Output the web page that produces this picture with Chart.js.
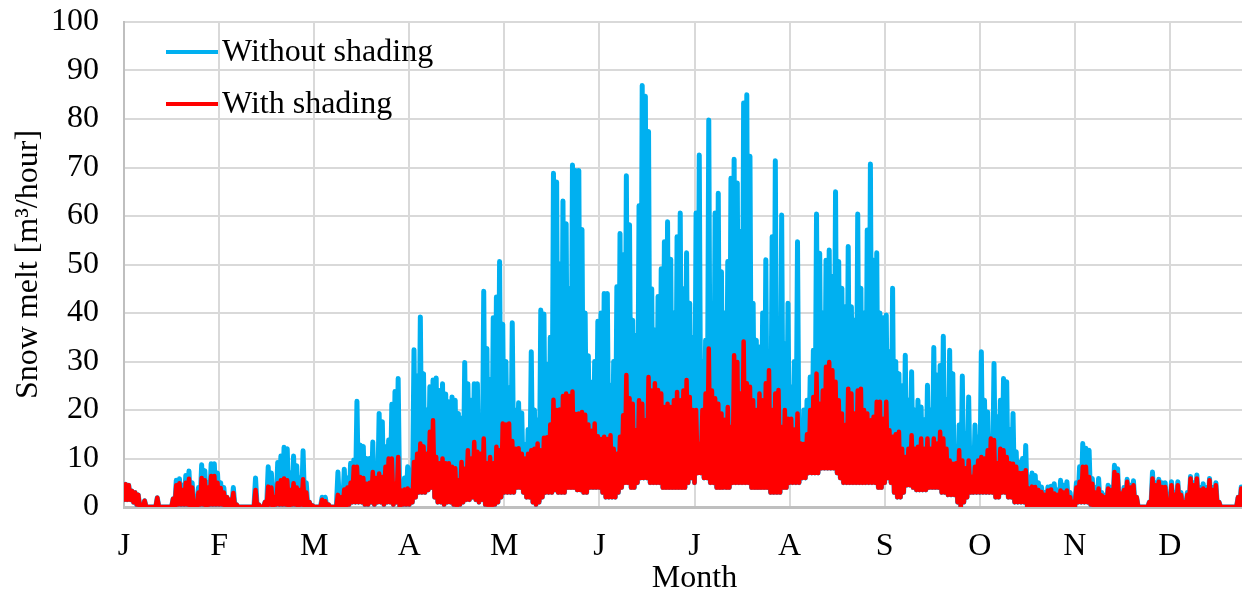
<!DOCTYPE html>
<html>
<head>
<meta charset="utf-8">
<title>Snow melt</title>
<script src="https://cdn.jsdelivr.net/npm/chart.js@4.4.0/dist/chart.umd.min.js"></script>
<style>
  html, body { margin: 0; padding: 0; background: #fff; overflow: hidden; }
  #wrap { width: 1265px; height: 592px; }
</style>
</head>
<body>
<div id="wrap"><canvas id="meltChart" width="1265" height="592"></canvas></div>
<script>
// month initials along the x axis (one tick per month)
const monthLabels = ["J", "F", "M", "A", "M", "J", "J", "A", "S", "O", "N", "D"];

// daily peak melt without shading [m3/hour], one row per month
const withoutShadingPeaks = [
  [4.7,4.5,3.3,3.0,2.5,0.5,1.3,0,0,0,1.9,0,0,0,0,1.7,5.5,5.8,4.5,6.5,7.4,5.0,1.0,4.0,8.7,7.5,5.0,8.9,8.9,7.0],
  [5.0,4.0,2.0,1.5,4.0,0.5,0,0,0,0,0,6.0,0.5,0,1.0,8.3,7.0,3.0,9.2,10.5,12.3,12.0,7.0,10.5,8.5,6.0,11.6,5.0,1.0,0.3],
  [0,0,2.0,2.0,0.5,0,0,7.2,3.0,7.8,6.0,9.0,9.7,21.8,12.8,12.5,10.0,10.0,13.4,9.0,19.3,17.6,12.4,13.8,21.2,23.8,26.5,4.8,6.0,8.3],
  [7.6,32.4,27.0,39.2,27.5,20.0,24.8,26.2,26.6,24.0,25.4,23.3,21.7,22.7,22.0,19.3,18.3,29.8,25.4,22.0,25.4,25.4,13.4,44.5,32.7,26.3,39.0,43.3,50.6,37.7],
  [30.0,24.6,38.0,20.0,21.5,19.4,12.9,16.0,32.0,20.0,18.0,40.6,39.8,29.4,35.0,68.8,67.0,50.1,63.1,58.4,45.0,70.5,69.4,69.4,57.2,40.0,31.2,25.7,30.0,38.3],
  [40.0,44.0,44.0,25.1,30.0,45.4,56.4,52.0,68.3,58.2,38.5,35.4,62.1,86.9,84.7,77.4,45.0,36.5,43.4,49.1,54.7,58.8,51.1,40.0,55.7,60.6,45.0,52.4,42.0,35.0],
  [60.6,72.6,30.0,34.4,79.8,29.9,60.6,64.7,48.5,40.0,50.6,67.8,71.7,66.8,56.8,83.3,85.0,72.3,42.0,34.4,33.0,40.0,51.0,28.2,55.7,71.4,33.7,60.2,33.7,42.0],
  [24.8,30.0,54.7,16.5,20.0,22.0,26.8,32.3,60.4,52.3,40.0,50.9,53.0,47.5,65.0,50.6,45.1,41.3,53.7,41.3,38.5,60.4,45.1,40.0,57.1,70.7,50.9,52.4,40.0,39.0],
  [39.6,32.0,45.1,30.0,27.5,25.0,31.3,22.0,27.9,20.0,22.0,20.6,18.0,25.1,20.0,32.9,27.2,29.2,35.2,22.0,32.3,27.5,12.0,16.9,27.0,15.0,22.7,6.9,16.9,14.5],
  [32.0,22.0,19.6,14.5,29.6,18.6,22.0,26.5,25.8,16.0,19.3,11.4,9.3,10.0,12.7,6.2,7.0,6.5,5.0,4.1,3.0,4.1,4.3,4.8,3.5,5.5,4.5,5.2,3.0,1.0],
  [5.0,8.3,13.1,12.1,11.7,5.9,4.0,5.9,3.0,2.4,4.5,4.0,8.6,7.9,3.0,4.0,5.7,4.5,5.4,2.0,0,0,0,1.0,7.2,5.0,5.7,5.0,5.0,1.4],
  [5.2,3.0,5.2,3.0,1.0,3.0,6.3,5.0,6.6,4.0,4.8,4.0,5.9,4.0,5.0,1.0,0,0,0,0,0,2.0,4.1]
];

// daily peak melt with shading [m3/hour]
const withShadingPeaks = [
  [4.7,4.5,3.3,3.0,2.5,0.5,1.3,0,0,0,1.9,0,0,0,0,1.7,4.5,4.9,3.5,5.0,5.8,4.0,0.8,3.0,6.0,5.5,4.0,6.4,6.4,5.0],
  [3.9,3.0,2.0,1.5,2.9,0.5,0,0,0,0,0,3.5,0.5,0,1.0,4.2,4.0,2.0,4.9,5.5,5.9,5.5,3.5,4.9,4.0,3.5,5.7,3.0,1.0,0.3],
  [0,0,1.5,1.2,0.5,0,0,2.5,2.0,3.6,4.0,5.0,8.3,8.3,6.2,6.0,4.8,5.0,7.2,6.0,6.9,6.2,8.3,10.0,10.0,4.8,10.3,3.4,3.6,3.8],
  [3.4,9.3,11.0,13.1,12.5,11.0,15.5,17.9,10.3,9.0,10.0,9.0,9.0,8.3,8.0,5.5,9.3,7.9,11.7,10.0,13.4,11.4,11.0,14.1,9.0,10.3,9.0,12.4,11.7,17.2],
  [17.0,17.2,13.6,12.0,12.1,11.0,10.0,11.0,11.7,12.0,13.1,11.7,14.3,14.4,17.0,22.1,20.0,20.1,22.9,23.4,22.9,23.8,19.2,19.3,19.6,19.0,17.0,15.7,17.2,14.6],
  [14.0,14.5,14.0,14.8,12.0,11.0,14.5,18.9,27.2,22.4,21.3,15.8,22.0,21.3,17.9,26.8,24.0,25.5,24.1,23.4,20.6,21.3,20.6,22.0,23.7,22.0,24.0,26.2,22.7,20.0],
  [20.0,13.0,20.0,23.4,32.7,24.0,22.4,21.3,19.3,18.0,20.6,16.5,31.3,29.9,23.4,34.1,25.5,24.8,22.0,20.0,23.4,22.0,25.5,28.2,20.0,23.4,24.1,16.5,20.0,18.2],
  [18.2,16.0,19.3,13.1,13.0,15.0,20.0,22.7,27.5,21.3,24.0,28.9,29.9,28.2,25.8,22.0,19.3,16.9,24.4,23.4,19.3,24.0,24.4,20.0,19.3,17.9,18.6,21.7,21.7,18.2],
  [21.7,15.8,14.5,15.0,15.5,12.0,10.3,12.0,14.8,12.0,12.4,14.1,12.0,14.1,12.0,14.1,13.1,15.5,14.1,12.0,9.6,8.9,9.0,11.7,9.6,8.0,9.6,6.2,8.3,9.6],
  [10.3,10.0,11.7,14.1,13.8,9.0,12.0,11.7,10.3,9.0,8.9,8.3,7.0,7.0,7.6,3.8,4.2,4.1,3.5,3.1,2.5,3.4,3.6,2.8,2.5,3.4,3.0,3.4,2.0,1.0],
  [4.0,5.2,8.3,8.3,6.2,4.8,3.0,3.8,2.4,2.0,3.8,3.5,7.2,6.6,2.8,3.5,5.2,4.0,4.5,2.0,0,0,0,1.0,5.9,4.5,5.2,4.1,4.1,1.4],
  [4.5,2.5,4.5,2.5,1.0,2.5,5.9,4.5,5.9,3.5,3.8,3.5,5.5,3.5,4.5,1.0,0,0,0,0,0,2.0,3.8]
];

// night-time minimum melt for each day (same for both cases)
const nightBase = [
  [1.5,1.5,1.5,1,0.5,0,0,0,0,0,0,0,0,0,0,0,0,0.5,0.5,0.5,0.5,0,0,0,0.5,0.5,0,0.5,0.5,0.5],
  [0.5,0.5,0,0,0,0,0,0,0,0,0,0,0,0,0,0,0.5,0,0.5,0.5,0.5,0.5,0,0.5,0.5,0,0.5,0,0,0],
  [0,0,0,0,0,0,0,0,0,0,0,0.5,1,1,1,1,0.5,0.5,1,0.5,1,1,0.5,1,1,0.5,1,0,0.5,0.5],
  [0.5,1,2,3,3,3,3.5,4,2,1,1,0.5,1,1,0.5,0,0.5,1,1.5,1.5,2,1.5,1,1.5,0.5,0,0,0.5,1,2],
  [3,3,3,3,4,4,3,2,2,1,0.5,1,2,3,3,3,3.5,3,3,3,4,4,4,3.5,3.5,3,3,4,4,4],
  [4,3,2,2,2,2,3,4,5,5,4,4,5,6,6,6,5,5,5,5,4,4,4,4,4,4,4,4,5,6],
  [5,7,7,6,6,5,5,4,4,4,4,4,5,5,5,5,5,5,4,4,4,4,4,4,3,3,3,3,4,4],
  [5,5,5,5,6,6,7,7,7,7,8,8,8,8,8,7,6,5,5,5,5,5,5,5,5,5,5,5,4,4],
  [5,6,5,3,2,2,3,4.5,4.5,4,3.5,3.5,3.5,3.5,4,4,4,4,3,3,2.5,2.5,2.5,1,0,1,2,3,3,3],
  [3,3,3,3,3,2,2,3,3,2,2,1,1,1,1,0,0,0,0,0,0,0,0,0,0,0,0,0,0,0],
  [0,1,1,1,1,0.5,0,0,0,0,0,0,0,0,0,0,0,0,0,0,0,0,0,0,0,0,0,0,0,0],
  [0,0,0,0,0,0,0,0,0,0,0,0,0,0,0,0,0,0,0,0,0,0,0]
];

const DAYS_PER_MONTH = 30;
const FONT_FAMILY = "'Times New Roman', 'Liberation Serif', serif";
const FONT_SIZE = 32;

// each day becomes a night low followed by the midday peak
function dailyPoints(peaks) {
  const pts = [];
  peaks.forEach((month, m) => {
    month.forEach((peak, d) => {
      pts.push({ x: m + d / DAYS_PER_MONTH, y: nightBase[m][d] });
      pts.push({ x: m + (d + 0.5) / DAYS_PER_MONTH, y: peak });
    });
  });
  return pts;
}

// legend drawn inside the plot, top left
const insideLegend = {
  id: "insideLegend",
  afterDatasetsDraw(chart) {
    const { ctx, chartArea } = chart;
    const entries = [chart.data.datasets[1], chart.data.datasets[0]];
    ctx.save();
    ctx.font = FONT_SIZE + "px " + FONT_FAMILY;
    ctx.textBaseline = "middle";
    ctx.fillStyle = "#000";
    entries.forEach((ds, i) => {
      const y = chartArea.top + 30 + i * 52;
      ctx.strokeStyle = ds.borderColor;
      ctx.lineWidth = 4;
      ctx.beginPath();
      ctx.moveTo(chartArea.left + 42, y);
      ctx.lineTo(chartArea.left + 94, y);
      ctx.stroke();
      ctx.fillText(ds.label, chartArea.left + 98, y + 1);
    });
    ctx.restore();
  }
};

const axisFont = { family: FONT_FAMILY, size: FONT_SIZE, lineHeight: 1 };

new Chart(document.getElementById("meltChart"), {
  type: "line",
  data: {
    datasets: [
      { label: "With shading", data: dailyPoints(withShadingPeaks),
        borderColor: "#FF0000", borderWidth: 4.5 },
      { label: "Without shading", data: dailyPoints(withoutShadingPeaks),
        borderColor: "#00B0F0", borderWidth: 5 }
    ]
  },
  options: {
    responsive: false,
    animation: false,
    devicePixelRatio: 1,
    layout: { padding: { left: 13, top: 0, right: 0, bottom: 0 } },
    elements: {
      point: { radius: 0 },
      line: { tension: 0, borderJoinStyle: "round", borderCapStyle: "round" }
    },
    plugins: { legend: { display: false }, tooltip: { enabled: false } },
    scales: {
      x: {
        type: "linear", min: 0, max: 12,
        ticks: {
          stepSize: 1, autoSkip: false, maxRotation: 0, padding: 24,
          color: "#000", font: axisFont,
          callback: (v) => monthLabels[Math.round(v)] || ""
        },
        grid: { color: "#d9d9d9", lineWidth: 2, drawTicks: false },
        border: { color: "#bfbfbf", width: 3 },
        title: { display: true, text: "Month", color: "#000", font: axisFont,
                 padding: { top: 0, bottom: -3 } },
        afterFit: (s) => { s.height = 85; s.paddingLeft = 0; s.paddingRight = 0; }
      },
      y: {
        min: 0, max: 100,
        ticks: { stepSize: 10, padding: 25, color: "#000", font: axisFont },
        grid: { color: "#d9d9d9", lineWidth: 2, drawTicks: false },
        border: { color: "#bfbfbf", width: 2 },
        title: { display: true, text: "Snow melt [m³/hour]", color: "#000", font: axisFont,
                 padding: { top: 0, bottom: 0 } },
        afterFit: (s) => { s.width = 111; s.paddingTop = 22; s.paddingBottom = 0; }
      }
    }
  },
  plugins: [insideLegend]
});
</script>
</body>
</html>
